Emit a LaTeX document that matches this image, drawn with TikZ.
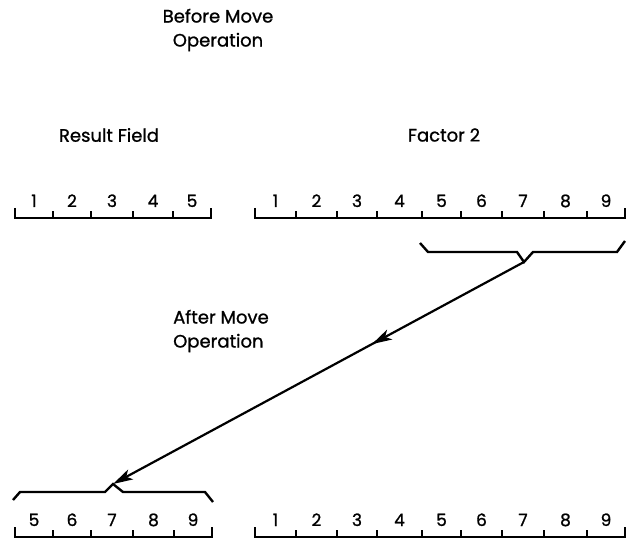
\documentclass[tikz,border=0pt]{standalone}
\usepackage{fontspec}
\setmainfont{Poppins}[FakeBold=1]
\usetikzlibrary{arrows.meta,decorations.markings}

\tikzset{
  rule/.style={line width=2.4pt, line join=miter},
  digit/.style={anchor=base, inner sep=0pt, font=\fontsize{17}{17}\selectfont},
  caption/.style={inner sep=0pt, font=\fontsize{18}{24}\selectfont},
  brace/.style={line width=2.4pt, line join=miter},
  tip/.style={-{Stealth[length=20pt,width=11pt,inset=5pt]}},
  move/.style={line width=2.2pt, tip,
    postaction={decorate},
    decoration={markings, mark=at position 0.37 with {\arrow{Stealth[length=20pt,width=11pt,inset=5pt]}}}}
}

\begin{document}
\begin{tikzpicture}[x=1pt, y=-1pt]
	  \useasboundingbox (0,0) rectangle (627,540);

	  % captions
	  \node[caption, align=center] (before) at (218,30) {Before Move\\Operation};
	  \node[caption] (result) at (109,135) {Result Field};
	  \node[caption] (factor) at (444,135) {Factor 2};
	  \node[caption, align=left, anchor=west] (after) at (173,331) {After Move\\Operation};

	  % result field, before
	  \draw[rule] (15,208) -- (15,218) -- (211,218) -- (211,208);
	  \foreach \x in {53,91,133,173} \draw[rule] (\x,218) -- (\x,211);
	  \foreach \a/\b [count=\i] in {15/53,53/91,91/133,133/173,173/211}
	    \node[digit] (rb\i) at ({(\a+\b)/2},207) {\i};

	  % factor 2, before
	  \draw[rule] (255,208) -- (255,218) -- (625,218) -- (625,208);
	  \foreach \x in {296,337,377,422,461,502,544,587} \draw[rule] (\x,218) -- (\x,211);
	  \foreach \a/\b [count=\i] in {255/296,296/337,337/377,377/422,422/461,461/502,502/544,544/587,587/625}
	    \node[digit] (fb\i) at ({(\a+\b)/2},207) {\i};

	  % result field, after
	  \draw[rule] (15,527) -- (15,537) -- (212,537) -- (212,527);
	  \foreach \x in {53,91,133,174} \draw[rule] (\x,537) -- (\x,530);
	  \foreach \a/\b [count=\i, evaluate=\i as \d using int(\i+4)] in {15/53,53/91,91/133,133/174,174/212}
	    \node[digit] (ra\i) at ({(\a+\b)/2},526) {\d};

	  % factor 2, after
	  \draw[rule] (255,527) -- (255,537) -- (625,537) -- (625,527);
	  \foreach \x in {296,337,377,422,461,502,544,587} \draw[rule] (\x,537) -- (\x,530);
	  \foreach \a/\b [count=\i] in {255/296,296/337,337/377,377/422,422/461,461/502,502/544,544/587,587/625}
	    \node[digit] (fa\i) at ({(\a+\b)/2},526) {\i};

	  % braces
	  \coordinate (srctip) at (524,262);
	  \coordinate (dsttip) at (113,484);
	  \draw[brace] (420,243) -- (428,252) -- (517,252) -- (srctip) -- (533,252) -- (617,252) -- (625,241);
	  \draw[brace] (13,500) -- (20,492) -- (105,492) -- (dsttip) -- (123,492) -- (205,492) -- (213,502);

	  \draw[move] (srctip) -- (dsttip);
	\end{tikzpicture}
\end{document}
